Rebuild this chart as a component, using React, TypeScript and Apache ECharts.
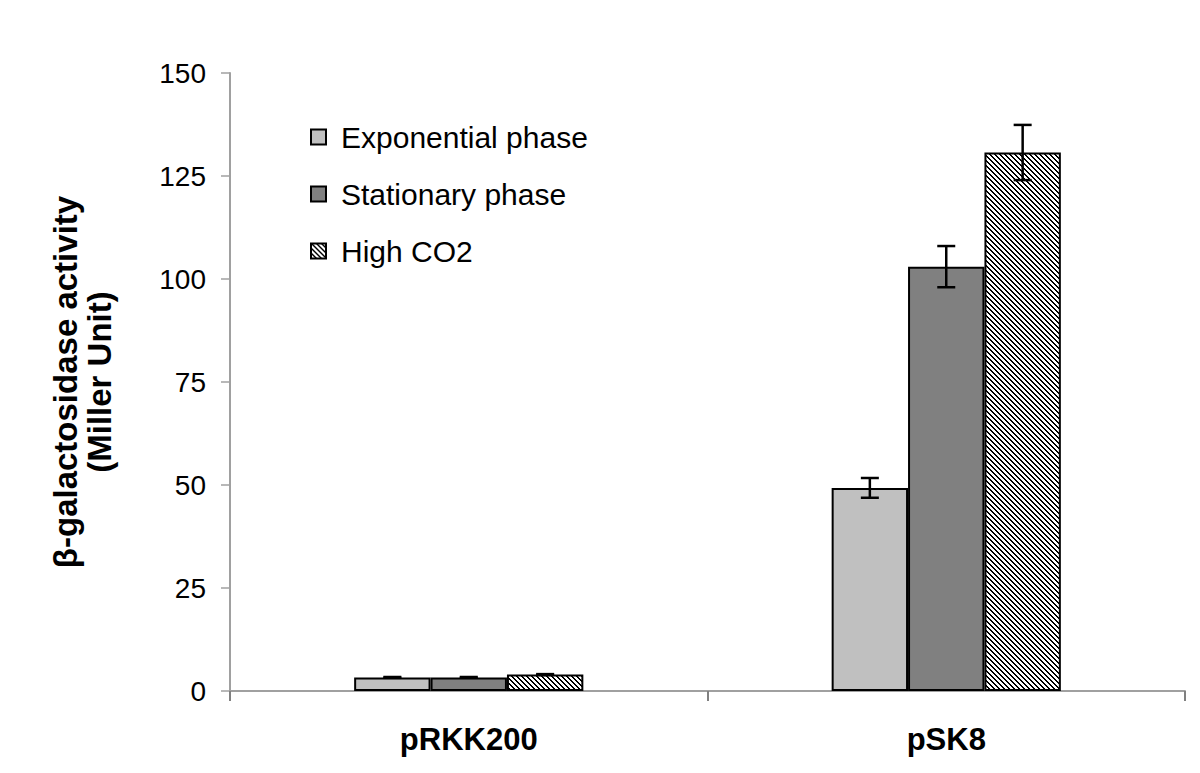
import React, { useEffect, useRef } from "react";
import * as echarts from "echarts";

const categories = ["pRKK200", "pSK8"];
const seriesNames = ["Exponential phase", "Stationary phase", "High CO2"];
const exponentialValues = [3.3, 49.3];
const stationaryValues = [3.3, 103.0];
const highCO2Values = [4.0, 130.7];
const exponentialErrors = [0.1, 2.4];
const stationaryErrors = [0.1, 5.0];
const highCO2Errors = [0.1, 6.7];
const yTicks = { min: 0, max: 150, interval: 25 };

function makeHatch(): HTMLCanvasElement {
  const size = 5;
  const c = document.createElement("canvas");
  c.width = size;
  c.height = size;
  const ctx = c.getContext("2d")!;
  ctx.fillStyle = "#ffffff";
  ctx.fillRect(0, 0, size, size);
  ctx.fillStyle = "#000000";
  for (let x = 0; x < size; x++) {
    for (let y = 0; y < size; y++) {
      const d = (((x - y) % size) + size) % size;
      if (d === 0 || d === 1) ctx.fillRect(x, y, 1, 1);
    }
  }
  return c;
}

export default function App() {
  const ref = useRef<HTMLDivElement>(null);
  useEffect(() => {
    if (!ref.current) return;
    const chart = echarts.init(ref.current, undefined, { renderer: "svg" });
    const hatch = makeHatch();
    const hatchColor: any = { image: hatch, repeat: "repeat", imageWidth: 5, imageHeight: 5 };
    const fills: any[] = ["#c0c0c0", "#808080", hatchColor];
    const valueSets = [exponentialValues, stationaryValues, highCO2Values];
    const errorSets = [exponentialErrors, stationaryErrors, highCO2Errors];
    const gapFrac = 0.52;

    const errData: number[][] = [];
    valueSets.forEach((vals, s) => {
      vals.forEach((v, c) => errData.push([c, s, v, errorSets[s][c]]));
    });

    const font = "'Liberation Sans', Arial, Helvetica, sans-serif";

    const barSeries = valueSets.map((vals, s) => ({
      name: seriesNames[s],
      type: "bar",
      data: vals,
      barGap: "0%",
      barCategoryGap: gapFrac * 100 + "%",
      itemStyle: { color: fills[s], borderColor: "#000", borderWidth: 2 },
    }));

    const option: any = {
      animation: false,
      backgroundColor: "#ffffff",
      textStyle: { fontFamily: font },
      grid: { left: 230, right: 15, top: 73, bottom: 82, containLabel: false },
      legend: {
        orient: "vertical",
        left: 305,
        top: 117,
        itemWidth: 15,
        itemHeight: 15,
        itemGap: 27,
        icon: "rect",
        data: seriesNames,
        textStyle: { fontSize: 30, color: "#000", fontFamily: font, padding: [0, 0, 0, 10] },
      },
      xAxis: {
        type: "category",
        data: categories,
        axisLine: { show: true, lineStyle: { color: "#a0a0a0", width: 2 } },
        axisTick: { show: true, alignWithLabel: false, length: 10, lineStyle: { color: "#808080", width: 2 } },
        axisLabel: { fontSize: 31, fontWeight: "bold", color: "#000", margin: 33, fontFamily: font },
        splitLine: { show: false },
      },
      yAxis: {
        type: "value",
        min: yTicks.min,
        max: yTicks.max,
        interval: yTicks.interval,
        name: "β-galactosidase activity\n(Miller Unit)",
        nameLocation: "middle",
        nameGap: 114,
        nameTextStyle: { fontSize: 33, fontWeight: "bold", color: "#000", lineHeight: 34, fontFamily: font },
        axisLine: { show: true, lineStyle: { color: "#a0a0a0", width: 2 } },
        axisTick: { show: true, inside: false, length: 9, lineStyle: { color: "#a0a0a0", width: 1.5 } },
        axisLabel: { fontSize: 28, color: "#000", margin: 24, fontFamily: font },
        splitLine: { show: false },
      },
      series: [
        ...barSeries,
        {
          type: "custom",
          name: "errors",
          data: errData,
          encode: { x: 0, y: 2 },
          z: 10,
          renderItem: (params: any, api: any) => {
            const c = api.value(0);
            const s = api.value(1);
            const v = api.value(2);
            const e = api.value(3);
            const band = api.size([1, 0])[0];
            const bw = (band * (1 - gapFrac)) / 3;
            const center = api.coord([c, v]);
            const x = center[0] + (s - 1) * bw;
            const top = api.coord([c, v + e])[1];
            const bot = api.coord([c, v - e])[1];
            const hw = 9;
            const style = { stroke: "#000", lineWidth: 2.5 };
            return {
              type: "group",
              children: [
                { type: "line", shape: { x1: x, y1: top, x2: x, y2: bot }, style },
                { type: "line", shape: { x1: x - hw, y1: top, x2: x + hw, y2: top }, style },
                { type: "line", shape: { x1: x - hw, y1: bot, x2: x + hw, y2: bot }, style },
              ],
            };
          },
        },
      ],
    };
    chart.setOption(option);
    return () => chart.dispose();
  }, []);
  return (
    <div
      ref={ref}
      style={{ position: "absolute", left: 0, top: 0, width: 1200, height: 773, background: "#fff" }}
    />
  );
}
